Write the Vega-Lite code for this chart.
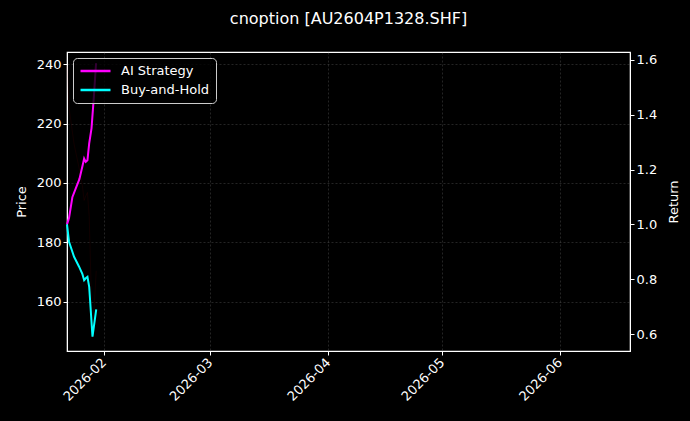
{
  "$schema": "https://vega.github.io/schema/vega-lite/v6.json",
  "width": 563,
  "height": 299,
  "autosize": {"type": "none"},
  "padding": {"left": 67, "top": 52, "right": 60, "bottom": 70},
  "background": "#000000",
  "title": {
    "text": "cnoption [AU2604P1328.SHF]",
    "color": "#ffffff",
    "font": "DejaVu Sans",
    "fontSize": 16,
    "fontWeight": "normal",
    "offset": 25
  },
  "layer": [
    {
      "data": {
        "values": [
          {"date": "2026-01-22T08:00", "price": 239.5},
          {"date": "2026-01-22T20:45", "price": 225.4},
          {"date": "2026-01-24T04:40", "price": 213.1},
          {"date": "2026-01-25T12:20", "price": 205.0},
          {"date": "2026-01-26T09:25", "price": 199.0},
          {"date": "2026-01-26T20:15", "price": 194.1},
          {"date": "2026-01-27T06:20", "price": 195.6},
          {"date": "2026-01-27T17:10", "price": 196.8},
          {"date": "2026-01-28T04:10", "price": 188.7},
          {"date": "2026-01-29T01:00", "price": 148.0},
          {"date": "2026-01-30T00:35", "price": 170.4}
        ]
      },
      "mark": {"type": "line", "color": "#8b0000", "opacity": 0.12, "strokeWidth": 1},
      "encoding": {
        "x": {
          "field": "date",
          "type": "temporal",
          "scale": {
            "domain": [
              {"year": 2026, "month": 1, "date": 22, "hours": 8},
              {"year": 2026, "month": 6, "date": 19, "hours": 12}
            ]
          },
          "axis": {
            "title": null,
            "values": [
              {"year": 2026, "month": 2, "date": 1},
              {"year": 2026, "month": 3, "date": 1},
              {"year": 2026, "month": 4, "date": 1},
              {"year": 2026, "month": 5, "date": 1},
              {"year": 2026, "month": 6, "date": 1}
            ],
            "format": "%Y-%m",
            "labelAngle": -45,
            "labelAlign": "right",
            "labelBaseline": "middle",
            "labelPadding": 5
          }
        },
        "y": {
          "field": "price",
          "type": "quantitative",
          "scale": {"domain": [143.4, 244.1], "nice": false, "zero": false},
          "axis": {
            "title": "Price",
            "orient": "left",
            "values": [160, 180, 200, 220, 240],
            "titlePadding": 8
          }
        }
      }
    },
    {
      "data": {
        "values": [
          {"date": "2026-01-22T08:00", "series": "AI Strategy", "value": 1.0},
          {"date": "2026-01-22T20:45", "series": "AI Strategy", "value": 1.023},
          {"date": "2026-01-23T17:50", "series": "AI Strategy", "value": 1.099},
          {"date": "2026-01-24T16:00", "series": "AI Strategy", "value": 1.132},
          {"date": "2026-01-25T14:15", "series": "AI Strategy", "value": 1.165},
          {"date": "2026-01-26T09:25", "series": "AI Strategy", "value": 1.212},
          {"date": "2026-01-26T20:15", "series": "AI Strategy", "value": 1.24},
          {"date": "2026-01-27T06:20", "series": "AI Strategy", "value": 1.228},
          {"date": "2026-01-27T17:10", "series": "AI Strategy", "value": 1.234},
          {"date": "2026-01-28T04:10", "series": "AI Strategy", "value": 1.295},
          {"date": "2026-01-28T18:50", "series": "AI Strategy", "value": 1.35},
          {"date": "2026-01-29T09:25", "series": "AI Strategy", "value": 1.463},
          {"date": "2026-01-29T23:25", "series": "AI Strategy", "value": 1.587},
          {"date": "2026-01-22T08:00", "series": "Buy-and-Hold", "value": 1.0},
          {"date": "2026-01-22T20:45", "series": "Buy-and-Hold", "value": 0.937},
          {"date": "2026-01-24T04:40", "series": "Buy-and-Hold", "value": 0.882},
          {"date": "2026-01-25T12:20", "series": "Buy-and-Hold", "value": 0.846},
          {"date": "2026-01-26T09:25", "series": "Buy-and-Hold", "value": 0.819},
          {"date": "2026-01-26T20:15", "series": "Buy-and-Hold", "value": 0.797},
          {"date": "2026-01-27T06:20", "series": "Buy-and-Hold", "value": 0.804},
          {"date": "2026-01-27T17:10", "series": "Buy-and-Hold", "value": 0.809},
          {"date": "2026-01-28T04:10", "series": "Buy-and-Hold", "value": 0.773},
          {"date": "2026-01-29T01:00", "series": "Buy-and-Hold", "value": 0.591},
          {"date": "2026-01-30T00:35", "series": "Buy-and-Hold", "value": 0.691}
        ]
      },
      "mark": {"type": "line", "strokeWidth": 2},
      "encoding": {
        "x": {"field": "date", "type": "temporal"},
        "y": {
          "field": "value",
          "type": "quantitative",
          "scale": {"domain": [0.539, 1.628], "nice": false, "zero": false},
          "axis": {
            "title": "Return",
            "orient": "right",
            "titleAngle": 270,
            "titleX": 43,
            "titleY": 149.5,
            "titleAlign": "center",
            "titleBaseline": "middle",
            "values": [0.6, 0.8, 1.0, 1.2, 1.4, 1.6],
            "format": ".1f"
          }
        },
        "color": {
          "field": "series",
          "type": "nominal",
          "scale": {"domain": ["AI Strategy", "Buy-and-Hold"], "range": ["#ff00ff", "#00ffff"]},
          "legend": {
            "title": null,
            "orient": "top-left",
            "offset": 6,
            "symbolType": "stroke",
            "symbolSize": 900,
            "symbolStrokeWidth": 2.5,
            "clipHeight": 14,
            "labelColor": "#ffffff",
            "labelFont": "DejaVu Sans",
            "labelFontSize": 13,
            "labelOffset": 9,
            "rowPadding": 5,
            "padding": 6,
            "fillColor": "rgba(0,0,0,0.8)",
            "strokeColor": "#cccccc",
            "cornerRadius": 4
          }
        }
      }
    }
  ],
  "resolve": {"scale": {"y": "independent"}, "axis": {"y": "independent"}},
  "config": {
    "view": {"stroke": "#ffffff", "strokeWidth": 1.2},
    "axis": {
      "domainColor": "#ffffff",
      "tickColor": "#ffffff",
      "tickSize": 4,
      "labelColor": "#ffffff",
      "labelFont": "DejaVu Sans",
      "labelFontSize": 13,
      "titleColor": "#ffffff",
      "titleFont": "DejaVu Sans",
      "titleFontSize": 13,
      "titleFontWeight": "normal",
      "grid": true,
      "gridColor": "#888888",
      "gridOpacity": 0.45,
      "gridDash": [2, 2],
      "gridWidth": 0.6
    }
  }
}
